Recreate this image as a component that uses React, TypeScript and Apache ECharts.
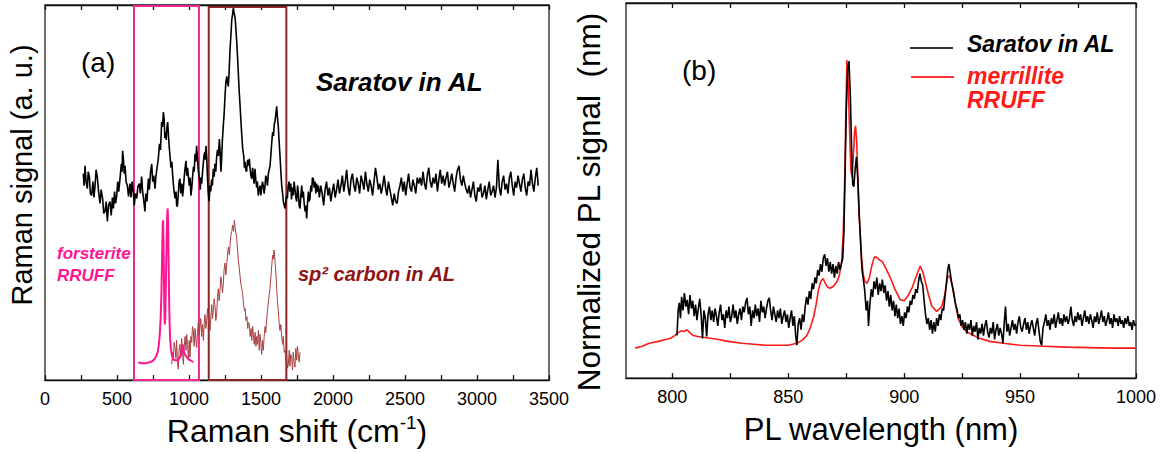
import React, { useEffect, useRef } from "react";
import * as echarts from "echarts";

const FONT = '"Liberation Sans", Arial, Helvetica, sans-serif';

// ---------- Panel (a): Raman ----------
const ramanLabelValues = [0, 500, 1000, 1500, 2000, 2500, 3000, 3500];
const forsteriteBox = [618, 1069];
const carbonBox = [1137, 1676];

// Saratov in AL, Raman (a.u.) — feature region
const ramanBlackPairs: [number, number][] = [
  [266,208],[271,196],[278,216],[285,200],[294,193],[300,210],[308,205],[315,188],[324,186],[333,200],[340,184],[347,195],[355,212],[363,205],[372,190],[382,178],[390,192],[400,183],[408,168],[417,170],[425,180],[433,160],[441,176],[451,180],[460,166],[468,184],[475,173],[483,190],[490,178],[498,186],[505,200],[512,190],[521,203],[530,218],[535,210],[539,231],[545,222],[550,208],[556,216],[563,200],[572,196],[580,185],[590,198],[597,184],[605,200],[613,190],[620,176],[628,188],[637,183],[645,195],[655,198],[662,188],[671,205],[678,190],[685,182],[694,170],[700,188],[708,180],[718,203],[725,192],[733,210],[741,218],[748,200],[755,206],[764,193],[770,205],[778,214],[787,223],[795,238],[802,232],[810,260],[816,255],[822,270],[828,262],[832,244],[836,250],[842,242],[847,255],[852,260],[857,248],[862,236],[868,226],[875,214],[881,220],[887,205],[895,192],[903,183],[910,190],[914,176],[919,175],[925,186],[931,200],[937,203],[943,188],[950,198],[956,185],[961,193],[967,205],[973,214],[979,221],[985,206],[990,214],[995,206],[1002,196],[1008,204],[1013,186],[1019,193],[1025,205],[1031,215],[1036,210],[1042,228],[1047,220],[1053,236],[1058,225],[1064,212],[1072,203],[1078,192],[1083,204],[1088,198],[1094,210],[1099,218],[1104,226],[1110,230],[1114,222],[1118,236],[1123,224],[1128,205],[1134,188],[1140,180],[1145,196],[1151,190],[1157,202],[1162,196],[1169,213],[1175,205],[1180,218],[1186,210],[1192,225],[1198,232],[1204,226],[1211,243],[1216,230],[1222,210],[1227,225],[1232,242],[1238,256],[1244,268],[1250,286],[1256,300],[1262,306],[1267,300],[1273,296],[1279,312],[1285,333],[1290,345],[1297,363],[1302,368],[1308,375],[1313,370],[1319,366],[1323,360],[1326,353],[1332,340],[1338,323],[1343,308],[1349,290],[1355,276],[1361,260],[1367,246],[1373,233],[1380,226],[1385,214],[1389,220],[1394,212],[1400,210],[1407,222],[1413,216],[1419,223],[1425,212],[1430,206],[1436,203],[1442,214],[1447,206],[1452,198],[1458,213],[1464,202],[1470,194],[1475,200],[1481,186],[1487,192],[1493,196],[1499,186],[1505,194],[1510,200],[1516,196],[1522,188],[1528,196],[1533,206],[1539,203],[1545,196],[1551,208],[1557,212],[1563,216],[1569,228],[1575,240],[1581,250],[1587,246],[1592,258],[1597,260],[1603,268],[1609,276],[1614,265],[1620,256],[1626,240],[1632,226],[1638,210],[1644,196],[1650,188],[1655,180],[1661,176],[1667,173],[1672,180],[1677,186],[1683,183],[1689,196],[1695,200],[1701,190],[1707,198],[1712,182],[1718,194],[1724,186],[1730,200],[1736,192],[1742,184],[1748,180],[1754,196],[1760,188],[1765,176],[1771,173],[1777,186],[1783,196],[1788,184],[1794,190],[1800,178],[1806,170],[1811,176],[1817,163],[1823,178],[1829,190],[1834,180],[1840,183],[1846,196],[1852,190],[1857,204],[1863,203],[1869,194],[1875,200],[1881,188],[1887,198],[1893,190],[1898,196]
];
// Saratov in AL, Raman — flat tail sampled every 10 cm-1 from 1905
const ramanTailStart = 1905;
const ramanTailStep = 10;
const ramanBlackTail = [
  184,196,188,176,192,200,186,194,180,190,198,184,192,202,188,
  196,206,190,200,212,194,186,202,208,196,190,204,198,188,206,200,192,210,198,
  190,202,196,186,200,214,204,192,198,188,196,206,194,186,200,192,
  184,176,188,180,178,190,
  196,204,190,200,186,198,208,194,190,202,196,188,204,198,
  204,196,210,198,192,206,214,200,194,204,198,208,190,202,212,198,206,196,204,210,194,200,208,198,190,204,212,216,202,196,206,198,192,
  188,196,184,192,200,186,180,194,190,198,184,188,196,182,192,200,186,190,196,184,194,
  222,194,186,200,206,192,198,188,204,210,196,186,200,194,206,198,190,202,208,194,186,200,196,212,198,190,204,214,196
];

// forsterite RRUFF
const forsteritePairs: [number, number][] = [
  [648,18],[670,17],[700,17],[725,18],[745,19],[760,21],[772,24],[782,28],[790,35],[797,46],[803,62],[808,85],[812,115],[815,140],[818,158],[820,161],[823,140],[826,103],[829,70],[832,56],[835,62],[838,85],[842,120],[846,150],[849,168],[852,173],[855,160],[858,125],[861,90],[864,65],[868,45],[873,33],[880,26],[891,21],[905,20],[920,20],[937,23],[945,26],[950,31],[956,36],[960,33],[965,28],[972,26],[980,24],[995,21],[1010,20],[1030,18]
];

// sp2 carbon in AL
const carbonPairs: [number, number][] = [
  [880,16],[886,28],[891,20],[897,38],[903,33],[909,22],[914,40],[920,18],[926,11],[931,30],[937,36],[943,24],[949,42],[955,28],[961,16],[967,34],[973,44],[979,30],[984,46],[990,36],[996,22],[1002,40],[1007,23],[1013,44],[1019,38],[1024,54],[1030,50],[1036,34],[1042,52],[1047,42],[1053,33],[1059,48],[1065,58],[1070,46],[1076,53],[1082,62],[1088,44],[1094,56],[1100,40],[1106,58],[1111,66],[1117,52],[1123,60],[1129,72],[1135,58],[1140,66],[1146,50],[1152,64],[1158,76],[1163,62],[1169,70],[1175,82],[1181,74],[1186,60],[1192,66],[1198,84],[1204,92],[1209,80],[1215,90],[1221,104],[1227,98],[1232,88],[1238,96],[1244,112],[1250,118],[1256,106],[1262,116],[1268,128],[1274,134],[1280,126],[1285,136],[1291,146],[1297,150],[1303,156],[1309,150],[1315,161],[1320,154],[1326,148],[1331,143],[1337,132],[1343,120],[1349,113],[1355,104],[1361,96],[1367,92],[1373,86],[1379,76],[1385,70],[1390,72],[1396,60],[1402,64],[1408,52],[1413,58],[1419,56],[1425,44],[1431,52],[1436,40],[1442,54],[1447,46],[1453,36],[1459,48],[1465,34],[1470,44],[1476,36],[1482,50],[1488,30],[1493,46],[1499,38],[1505,26],[1510,40],[1516,30],[1522,44],[1528,54],[1533,48],[1539,60],[1545,70],[1551,78],[1557,86],[1563,93],[1569,104],[1575,116],[1581,126],[1586,122],[1590,131],[1595,124],[1600,114],[1604,106],[1609,92],[1614,80],[1620,70],[1626,58],[1632,50],[1638,56],[1644,43],[1650,36],[1655,44],[1661,28],[1667,30],[1673,18],[1678,26],[1684,12],[1690,16],[1696,30],[1701,14],[1707,26],[1713,23],[1719,10],[1724,28],[1730,18],[1736,13],[1742,32],[1748,20],[1753,34],[1759,26],[1765,18],[1771,28]
];

// ---------- Panel (b): PL ----------
const plTickValues = [800, 825, 850, 875, 900, 925, 950, 975, 1000];
const plLabelValues = [800, 850, 900, 950, 1000];

const merrillitePairs: [number, number][] = [
  [784,31],[787,33],[790,36],[794,38],[797,40],[799,41],[801,44],[802.5,47],[804,49],[805,48],[806.3,50],[807.5,47],[809,44],[811,43],[814,42],[817,41],[820,40],[824,38],[830,36],[835,35],[840,34],[845,34],[850,34],[853.7,36],[856,39],[858,44],[859.5,52],[861,64],[862,76],[863,91],[864,100],[865,103],[866,98],[867,94],[868,93],[869.5,95],[871,100],[872,106],[873,120],[873.7,150],[874.3,200],[874.8,270],[875.3,329],[875.8,310],[876.4,260],[877,215],[877.5,208],[878,225],[878.6,255],[879,261],[879.5,245],[880,210],[880.5,170],[881,151],[881.6,125],[882.3,108],[883,100],[884,98],[885,104],[886,116],[887,124],[887.5,126],[888.5,124],[889.5,122],[890.4,121],[892,114],[894,104],[896,92],[898.3,81],[900,80],[901.9,86],[903.5,94],[905,104],[906.9,116],[908,110],[909,101],[910.5,86],[912,74],[914,69],[916.2,74],[917.5,86],[918.7,104],[919.5,106],[920.3,100],[921.2,91],[922.3,74],[923.4,61],[925,53],[927,48],[930,44],[932.8,41],[937,38],[942.8,36],[950,34],[960,33],[970,32],[980,31.5],[990,31],[1000,31]
];

const saratovPLPairs: [number, number][] = [
  [802,44],[802.5,70],[803,78],[803.5,62],[804,84],[804.6,70],[805.2,88],[805.8,74],[806.4,81],[807,66],[807.6,86],[808.2,72],[808.8,80],[809.4,64],[810,76],[810.6,60],[811.2,72],[811.8,82],[812.4,66],[813,41],[813.6,70],[814.2,62],[814.8,43],[815.4,66],[816,74],[816.6,60],[817.2,70],[817.8,58],[818.4,72],[819,64],[819.6,54],[820.2,68],[820.8,76],[821.4,60],[822,66],[822.6,52],[823.2,70],[823.8,62],[824.4,74],[825,58],[825.6,64],[826.2,76],[826.8,62],[827.4,70],[828,56],[828.6,66],[829.2,72],[829.8,60],[830.4,74],[831,68],[831.6,78],[832.2,83],[832.8,66],[833.4,74],[834,54],[834.6,70],[835.2,62],[835.8,76],[836.4,64],[837,72],[837.6,58],[838.2,80],[838.8,68],[839.4,74],[840,62],[840.6,72],[841.2,80],[841.8,83],[842.4,70],[843,60],[843.6,74],[844.2,66],[844.8,58],[845.4,70],[846,62],[846.6,72],[847.2,56],[847.8,64],[848.4,70],[849,58],[849.6,66],[850.2,52],[850.8,62],[851.4,70],[852,54],[852.6,64],[853.2,44],[853.7,34],[854.3,56],[854.9,62],[855.5,50],[856.1,66],[856.7,58],[857.3,74],[857.9,84],[858.5,76],[859.1,90],[859.7,82],[860.3,98],[860.9,92],[861.5,104],[862.1,98],[862.7,112],[863.3,106],[863.9,118],[864.5,110],[865.1,124],[865.7,128],[866.3,116],[866.9,124],[867.5,110],[868.1,120],[868.7,108],[869.3,118],[869.9,104],[870.5,116],[871.1,108],[871.7,120],[872.3,112],[872.9,118],[873.5,124],[874,150],[874.5,210],[875,275],[875.6,318],[876.2,328],[876.8,290],[877.3,240],[877.8,200],[878.3,198],[878.8,215],[879.4,229],[880,205],[880.6,170],[881.2,140],[881.8,112],[882.4,102],[883,90],[883.6,70],[884.2,80],[884.6,54],[885.2,76],[885.8,92],[886.4,84],[887,100],[887.6,92],[888.2,104],[888.8,86],[889.4,98],[890,90],[890.6,102],[891.2,88],[891.8,96],[892.4,80],[893,90],[893.6,74],[894.2,86],[894.8,70],[895.4,80],[896,64],[896.6,76],[897.2,62],[897.8,72],[898.4,56],[899,64],[899.6,54],[900.2,68],[900.8,62],[901.4,74],[902,68],[902.6,80],[903.2,76],[903.8,86],[904.4,82],[905,92],[905.6,88],[906.2,100],[906.8,108],[907.4,100],[908,96],[908.6,80],[909.2,66],[909.8,56],[910.4,62],[911,50],[911.6,60],[912.2,46],[912.8,58],[913.4,48],[914,62],[914.6,54],[915.2,66],[915.8,60],[916.4,72],[917,70],[917.6,84],[918.2,98],[918.8,112],[919.3,118],[919.8,110],[920.4,100],[921,92],[921.6,84],[922.2,76],[922.8,71],[923.4,62],[924,66],[924.6,54],[925.2,60],[925.8,50],[926.4,58],[927,46],[927.6,56],[928.2,50],[928.8,60],[929.4,44],[930,54],[930.6,48],[931.2,58],[931.8,40],[932.4,52],[933,46],[933.6,56],[934.2,44],[934.8,54],[935.4,60],[936,48],[936.6,42],[937.2,52],[937.8,46],[938.4,58],[939,40],[939.6,50],[940.2,56],[940.8,44],[941.4,52],[942,46],[942.6,36],[943.2,58],[943.7,74],[944.3,48],[944.9,56],[945.5,44],[946.1,52],[946.7,60],[947.3,50],[947.9,56],[948.5,46],[949.1,58],[949.7,64],[950.3,52],[950.9,48],[951.5,56],[952.1,62],[952.7,50],[953.3,58],[953.9,46],[954.5,54],[955.1,60],[955.7,52],[956.3,44],[956.9,56],[957.5,62],[958.1,50],[958.7,38],[959.3,34],[959.9,52],[960.5,58],[961.1,66],[961.7,54],[962.3,60],[962.9,50],[963.5,62],[964.1,56],[964.7,66],[965.3,52],[965.9,60],[966.5,68],[967.1,56],[967.7,62],[968.3,54],[968.9,66],[969.5,58],[970.1,64],[970.7,56],[971.3,62],[971.9,74],[972.5,60],[973.1,54],[973.7,64],[974.3,58],[974.9,68],[975.5,60],[976.1,66],[976.7,54],[977.3,62],[977.9,70],[978.5,58],[979.1,64],[979.7,56],[980.3,66],[980.9,60],[981.5,52],[982.1,64],[982.7,58],[983.3,68],[983.9,56],[984.5,62],[985.1,70],[985.7,58],[986.3,64],[986.9,54],[987.5,60],[988.1,68],[988.7,56],[989.3,62],[989.9,52],[990.5,66],[991.1,58],[991.7,62],[992.3,54],[992.9,64],[993.5,56],[994.1,60],[994.7,52],[995.3,62],[995.9,56],[996.5,64],[997.1,54],[997.7,58],[998.3,50],[998.9,60],[999.5,54],[1000,56]
];

const PINK = "#f0288e";
const PINK_LINE = "#ff1493";
const DARKRED = "#8b2525";
const DARKRED_LINE = "#a84040";
const DARKRED_TEXT = "#8e1414";
const RED = "#ff1a1a";

export default function App() {
  const ref = useRef<HTMLDivElement>(null);

  useEffect(() => {
    if (!ref.current) return;
    const chart = echarts.init(ref.current, undefined, { renderer: "svg" });

    const ramanBlack = ramanBlackPairs.concat(
      ramanBlackTail.map((v, i) => [ramanTailStart + i * ramanTailStep, v] as [number, number])
    );

    const bottomAxisCommon = {
      type: "value",
      axisLine: { show: true, lineStyle: { color: "#111", width: 1.3 } },
      axisTick: { show: true, inside: true, length: 5, lineStyle: { color: "#111", width: 1.3 } },
      splitLine: { show: false },
    };

    const boldItalic = (size: number, color: string) => ({
      fontFamily: FONT,
      fontSize: size,
      fontWeight: "bold",
      fontStyle: "italic",
      fill: color,
    });

    chart.setOption({
      animation: false,
      grid: [
        { left: 45, top: 5, width: 504, height: 378, show: true, borderColor: "#222", borderWidth: 1.3 },
        { left: 626, top: 3, width: 510, height: 388, show: true, borderColor: "#222", borderWidth: 1.3 },
      ],
      xAxis: [
        {
          ...bottomAxisCommon,
          gridIndex: 0,
          position: "bottom",
          min: 0,
          max: 3500,
          interval: 250,
          axisLabel: {
            fontFamily: FONT,
            fontSize: 18,
            color: "#000",
            margin: 10,
            showMinLabel: true,
            showMaxLabel: true,
            formatter: (v: number) => (ramanLabelValues.includes(v) ? String(v) : ""),
          },
          name: "{a|Raman shift (cm}{s|-1}{a|)}",
          nameLocation: "middle",
          nameGap: 28,
          nameTextStyle: {
            rich: {
              a: { fontFamily: FONT, fontSize: 32, color: "#000", lineHeight: 36 },
              s: { fontFamily: FONT, fontSize: 19, color: "#000", lineHeight: 19, verticalAlign: "top" },
            },
          },
        },
        {
          ...bottomAxisCommon,
          gridIndex: 0,
          position: "top",
          min: 0,
          max: 3500,
          interval: 250,
          axisLabel: { show: false },
        },
        {
          ...bottomAxisCommon,
          gridIndex: 1,
          position: "bottom",
          min: 780,
          max: 1000,
          axisTick: { show: true, inside: true, length: 5, lineStyle: { color: "#111", width: 1.3 }, customValues: plTickValues },
          axisLabel: {
            fontFamily: FONT,
            fontSize: 18,
            color: "#000",
            margin: 10,
            customValues: plLabelValues,
            formatter: (v: number) => String(v),
          },
          name: "PL wavelength (nm)",
          nameLocation: "middle",
          nameGap: 20,
          nameTextStyle: { fontFamily: FONT, fontSize: 31, color: "#000", lineHeight: 36 },
        },
        {
          ...bottomAxisCommon,
          gridIndex: 1,
          position: "top",
          min: 780,
          max: 1000,
          axisTick: { show: true, inside: true, length: 5, lineStyle: { color: "#111", width: 1.3 }, customValues: plTickValues },
          axisLabel: { show: false },
        },
      ],
      yAxis: [
        { gridIndex: 0, type: "value", min: 0, max: 378, show: false },
        { gridIndex: 1, type: "value", min: 0, max: 388, show: false },
      ],
      series: [
        {
          name: "sp2 carbon in AL",
          type: "line",
          xAxisIndex: 0,
          yAxisIndex: 0,
          data: carbonPairs,
          showSymbol: false,
          lineStyle: { color: DARKRED_LINE, width: 1 },
        },
        {
          name: "forsterite RRUFF",
          type: "line",
          xAxisIndex: 0,
          yAxisIndex: 0,
          data: forsteritePairs,
          showSymbol: false,
          lineStyle: { color: PINK_LINE, width: 2 },
        },
        {
          name: "Saratov in AL (Raman)",
          type: "line",
          xAxisIndex: 0,
          yAxisIndex: 0,
          data: ramanBlack,
          showSymbol: false,
          lineStyle: { color: "#000", width: 1.6 },
          markArea: {
            silent: true,
            data: [
              [
                { xAxis: forsteriteBox[0], yAxis: 0, itemStyle: { color: "rgba(0,0,0,0)", borderColor: PINK, borderWidth: 2 } },
                { xAxis: forsteriteBox[1], yAxis: 377 },
              ],
              [
                { xAxis: carbonBox[0], yAxis: 0, itemStyle: { color: "rgba(0,0,0,0)", borderColor: DARKRED, borderWidth: 2 } },
                { xAxis: carbonBox[1], yAxis: 376 },
              ],
            ],
          },
        },
        {
          name: "merrillite RRUFF",
          type: "line",
          xAxisIndex: 2,
          yAxisIndex: 1,
          data: merrillitePairs,
          showSymbol: false,
          lineStyle: { color: RED, width: 1.6 },
        },
        {
          name: "Saratov in AL",
          type: "line",
          xAxisIndex: 2,
          yAxisIndex: 1,
          data: saratovPLPairs,
          showSymbol: false,
          lineStyle: { color: "#000", width: 1.6 },
        },
      ],
      graphic: [
        { type: "text", x: 22, y: 175, rotation: Math.PI / 2, style: { text: "Raman signal (a. u.)", fontFamily: FONT, fontSize: 29, fill: "#000", align: "center", verticalAlign: "middle" } },
        { type: "text", x: 589, y: 202, rotation: Math.PI / 2, style: { text: "Normalized PL signal  (nm)", fontFamily: FONT, fontSize: 31.5, fill: "#000", align: "center", verticalAlign: "middle" } },
        { type: "text", x: 81, y: 62, style: { text: "(a)", fontFamily: FONT, fontSize: 28, fill: "#000", verticalAlign: "middle" } },
        { type: "text", x: 316, y: 82, style: { text: "Saratov in AL", ...boldItalic(26, "#000"), verticalAlign: "middle" } },
        { type: "text", x: 57, y: 253, style: { text: "forsterite", ...boldItalic(17, PINK_LINE), verticalAlign: "middle" } },
        { type: "text", x: 57, y: 275, style: { text: "RRUFF", ...boldItalic(17, PINK_LINE), verticalAlign: "middle" } },
        { type: "text", x: 298, y: 274, style: { text: "sp² carbon in AL", ...boldItalic(20, DARKRED_TEXT), verticalAlign: "middle" } },
        { type: "text", x: 682, y: 70, style: { text: "(b)", fontFamily: FONT, fontSize: 28, fill: "#000", verticalAlign: "middle" } },
        { type: "line", shape: { x1: 910, y1: 48, x2: 953, y2: 48 }, style: { stroke: "#333", lineWidth: 2 } },
        { type: "line", shape: { x1: 911, y1: 77, x2: 954, y2: 77 }, style: { stroke: "#ff3333", lineWidth: 2 } },
        { type: "text", x: 967, y: 44, style: { text: "Saratov in AL", ...boldItalic(23, "#000"), verticalAlign: "middle" } },
        { type: "text", x: 967, y: 76, style: { text: "merrillite", ...boldItalic(23, RED), verticalAlign: "middle" } },
        { type: "text", x: 967, y: 100, style: { text: "RRUFF", ...boldItalic(23, RED), verticalAlign: "middle" } },
      ],
    });

    return () => chart.dispose();
  }, []);

  return (
    <div
      ref={ref}
      style={{ position: "absolute", left: 0, top: 0, width: 1166, height: 452, background: "#fff" }}
    />
  );
}
